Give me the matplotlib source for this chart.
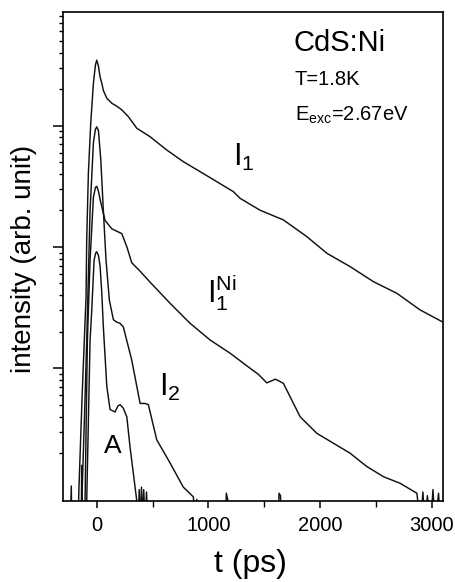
import numpy as np
import matplotlib
matplotlib.use('Agg')
import matplotlib.pyplot as plt
from matplotlib.ticker import FixedLocator, NullFormatter, MultipleLocator

plt.rcParams['font.family'] = ['Liberation Sans', 'DejaVu Sans']
plt.rcParams['mathtext.fontset'] = 'custom'
plt.rcParams['mathtext.rm'] = 'Liberation Sans'
plt.rcParams['mathtext.it'] = 'Liberation Sans'

t_I1 = [-170, -160, -130, -96, -90, -75, -54, -30, -12, 0, 15, 30, 45, 59, 90, 134, 180,
        224, 283, 358, 477, 627, 775, 925, 1075, 1223, 1283, 1462, 1671, 1881, 2060,
        2268, 2477, 2687, 2895, 3100]
lg_I1 = [-1.4, -1.0, -0.2, 0.59, 1.06, 1.61, 2.02, 2.35, 2.50, 2.54, 2.49, 2.40, 2.35, 2.29,
         2.226, 2.185, 2.16, 2.13, 2.074, 1.979, 1.909, 1.799, 1.703, 1.621, 1.538, 1.456,
         1.401, 1.303, 1.223, 1.085, 0.948, 0.838, 0.714, 0.618, 0.481, 0.38]

t_I2 = [-140, -134, -110, -90, -60, -30, -12, 0, 15, 36, 59, 83, 113, 149, 180, 209, 238,
        313, 388, 433, 462, 537, 656, 775, 865, 880, 895, 910,
        1150, 1160, 1172, 1185, 1620, 1632, 1645, 1660]
lg_I2 = [-1.4, -1.1, -0.4, 0.23, 1.30, 1.86, 1.97, 1.99, 1.96, 1.72, 1.30, 0.89, 0.56, 0.40,
         0.38, 0.37, 0.34, 0.068, -0.29, -0.29, -0.30, -0.59, -0.78, -0.98, -1.06, -1.3,
         -1.08, -1.4, -1.4, -1.03, -1.08, -1.4, -1.4, -1.03, -1.05, -1.4]

t_I1Ni = [-115, -105, -84, -60, -30, -12, 0, 15, 30, 74, 134, 179, 224, 270, 313, 388, 477,
          656, 835, 1015, 1194, 1373, 1447, 1522, 1600, 1671, 1821, 1970, 2119, 2268, 2418,
          2567, 2716, 2866, 2900, 2920, 2940, 2960, 2990, 3010, 3030, 3060, 3080, 3100]
lg_I1Ni = [-1.4, -1.1, 0.23, 0.89, 1.41, 1.49, 1.50, 1.46, 1.39, 1.22, 1.15, 1.13, 1.11,
           1.00, 0.87, 0.80, 0.71, 0.536, 0.371, 0.233, 0.124, 0.0, -0.05, -0.12, -0.09,
           -0.124, -0.40, -0.536, -0.618, -0.70, -0.81, -0.894, -0.948, -1.03, -1.3, -1.02,
           -1.3, -1.05, -1.3, -1.0, -1.3, -1.03, -1.3, -1.4]

t_A = [-240, -228, -222, -140, -135, -128, -90, -60, -45, -24, -10, 0, 15, 30, 45, 59, 90,
       119, 164, 190, 209, 238, 269, 298, 343, 358, 370, 380, 390, 400, 410, 420, 435, 445,
       460, 480]
lg_A = [-1.4, -0.97, -1.4, -1.4, -0.8, -1.4, -1.09, 0.23, 0.48, 0.89, 0.95, 0.96, 0.93, 0.84,
        0.62, 0.34, -0.15, -0.34, -0.36, -0.31, -0.30, -0.33, -0.40, -0.65, -0.98, -1.09,
        -1.3, -1.0, -1.3, -0.98, -1.25, -1.0, -1.3, -1.02, -1.3, -1.4]

xticks = [0, 1000, 2000, 3000]
ymajor = [1, 10, 100]

fig = plt.figure(figsize=(4.56, 5.82), dpi=100)
ax = fig.add_axes([0.1375, 0.1392, 0.834, 0.8402])

for t, lg in [(t_I1, lg_I1), (t_I2, lg_I2), (t_I1Ni, lg_I1Ni), (t_A, lg_A)]:
    ax.plot(t, np.power(10.0, lg), color='#111111', lw=1.05)

ax.set_yscale('log')
ax.set_xlim(-305, 3100)
ax.set_ylim(10 ** -1.094, 10 ** 2.937)

ax.set_xticks(xticks)
ax.set_xticklabels([str(v) for v in xticks])
ax.xaxis.set_minor_locator(MultipleLocator(500))
ax.yaxis.set_major_locator(FixedLocator(ymajor))
yminor = [m * d for d in [0.1, 1, 10, 100] for m in range(2, 10)]
ax.yaxis.set_minor_locator(FixedLocator(yminor))
ax.yaxis.set_major_formatter(NullFormatter())
ax.yaxis.set_minor_formatter(NullFormatter())

ax.tick_params(axis='x', which='major', direction='out', length=5, width=1.1,
               labelsize=14.5, pad=6)
ax.tick_params(axis='x', which='minor', direction='out', length=4, width=1.0)
ax.tick_params(axis='y', which='major', direction='out', length=7, width=1.1)
ax.tick_params(axis='y', which='minor', direction='out', length=3, width=1.0)
for s in ax.spines.values():
    s.set_linewidth(1.2)

fig.text(24 / 456, 1 - 259 / 582, 'intensity (arb. unit)', rotation=90,
         ha='center', va='center', fontsize=20)
fig.text(250 / 456, 1 - 564 / 582, 't (ps)', ha='center', va='center', fontsize=23)

ax.text(1758, 10 ** 2.68, 'CdS:Ni', fontsize=21, ha='left', va='center')
ax.text(1767, 10 ** 2.377, 'T=1.8K', fontsize=14.5, ha='left', va='center')
ax.text(1775, 10 ** 2.088, r'$\mathregular{E_{exc}}$=2.67eV', fontsize=14.5,
        ha='left', va='center')
ax.text(1220, 10 ** 1.734, r'$\mathregular{I_1}$', fontsize=22, ha='left', va='center')
ax.text(984, 10 ** 0.621, r'$\mathregular{I_1^{Ni}}$', fontsize=22, ha='left', va='center')
ax.text(558, 10 ** -0.158, r'$\mathregular{I_2}$', fontsize=22, ha='left', va='center')
ax.text(140, 10 ** -0.64, 'A', fontsize=19, ha='center', va='center')

fig.savefig('out.png', dpi=100)
